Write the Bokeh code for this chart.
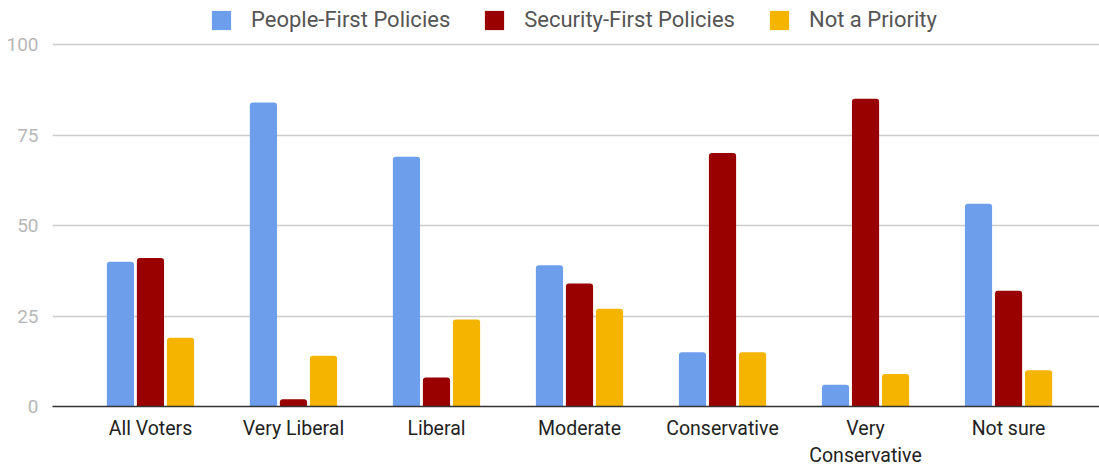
from bokeh.plotting import figure
from bokeh.models import ColumnDataSource, FixedTicker, Legend, LegendItem
from bokeh.transform import dodge
from bokeh.embed import file_html
from bokeh.resources import INLINE

categories = ["All Voters", "Very Liberal", "Liberal", "Moderate",
              "Conservative", "Very\nConservative", "Not sure"]
people_first = [40, 84, 69, 39, 15, 6, 56]
security_first = [41, 2, 8, 34, 70, 85, 32]
not_priority = [19, 14, 24, 27, 15, 9, 10]
series_names = ["People-First Policies", "Security-First Policies", "Not a Priority"]
colors = ["#6d9eeb", "#990000", "#f4b400"]
y_ticks = [0, 25, 50, 75, 100]

FONT = "Roboto"

source = ColumnDataSource(dict(
    x=list(range(len(categories))),
    people=people_first,
    security=security_first,
    notp=not_priority,
))

# frame spans from the top of the page down to the zero line; the area above
# the 100 gridline holds the legend
p = figure(frame_width=1047, frame_height=406, output_backend="svg", toolbar_location=None,
           x_range=(-0.685, 6.636), y_range=(0, 100 * 406 / 362),
           min_border_left=52, min_border_right=0, min_border_top=0,
           min_border_bottom=56)

p.outline_line_color = None
p.background_fill_color = "white"
p.border_fill_color = "white"

renderers = []
for field, off, col in zip(["people", "security", "notp"], [-0.21, 0.0, 0.21], colors):
    r = p.vbar(x=dodge("x", off, range=p.x_range), top=field, width=0.19,
               bottom=0, source=source, fill_color=col, line_color=None,
               border_radius=(3, 3, 0, 0))
    renderers.append(r)

# axes
p.xaxis.ticker = FixedTicker(ticks=list(range(len(categories))))
p.xaxis.major_label_overrides = {i: c for i, c in enumerate(categories)}
p.xaxis.major_tick_line_color = None
p.xaxis.minor_tick_line_color = None
p.xaxis.axis_line_color = "#333333"
p.xaxis.axis_line_width = 1.6
p.xaxis.major_label_text_font = FONT
p.xaxis.major_label_text_font_size = "19.5px"
p.xaxis.major_label_text_color = "#222222"
p.xaxis.major_label_standoff = 4

p.yaxis.ticker = FixedTicker(ticks=y_ticks)
p.yaxis.major_tick_line_color = None
p.yaxis.minor_tick_line_color = None
p.yaxis.axis_line_color = None
p.yaxis.major_label_text_font = FONT
p.yaxis.major_label_text_font_size = "19px"
p.yaxis.major_label_text_color = "#b7b7b7"
p.yaxis.major_label_standoff = 8

p.xgrid.grid_line_color = None
p.ygrid.grid_line_color = "#cccccc"
p.ygrid.grid_line_width = 1.5

legend = Legend(items=[LegendItem(label=n, renderers=[r]) for n, r in zip(series_names, renderers)],
                orientation="horizontal", location=(157, 374),
                glyph_width=24, glyph_height=24,
                label_text_font=FONT, label_text_font_size="22px",
                label_text_color="#555555", label_standoff=18, spacing=32,
                padding=0, margin=0, border_line_color=None,
                background_fill_alpha=0)
p.add_layout(legend, "center")

open("out.html", "w").write(file_html(p, INLINE))
